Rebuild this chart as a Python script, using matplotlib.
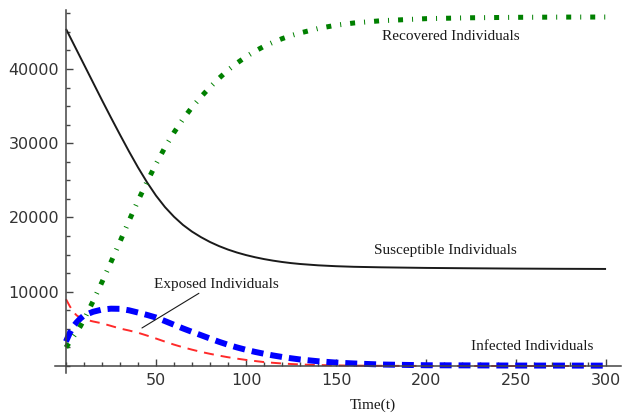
import matplotlib
matplotlib.use("Agg")
import matplotlib.pyplot as plt
from matplotlib.ticker import MultipleLocator, FixedLocator

plt.rcParams["lines.scale_dashes"] = False

# Time grid (days)
t = [0, 2, 4, 6, 8, 10, 15, 20, 25, 30, 35, 40, 45, 50, 55, 60, 65, 70, 75, 80,
     85, 90, 95, 100, 105, 110, 115, 120, 125, 130, 140, 150, 160, 175, 200,
     225, 250, 275, 300]

susceptible = [45400, 44440, 43480, 42520, 41560, 40600, 38200, 35800, 33450, 31150,
               28900, 26750, 24750, 22950, 21400, 20100, 19000, 18100, 17350, 16700,
               16150, 15680, 15280, 14940, 14650, 14400, 14190, 14010, 13860, 13740,
               13560, 13440, 13360, 13290, 13210, 13160, 13120, 13090, 13070]

exposed = [9000, 8100, 7300, 6800, 6500, 6300, 6000, 5750, 5400, 5050,
           4780, 4480, 4100, 3700, 3280, 2880, 2520, 2200, 1900, 1640,
           1400, 1180, 990, 820, 670, 530, 430, 340, 270, 210,
           130, 80, 50, 25, 10, 5, 0, 0, 0]

infected = [3300, 4400, 5300, 5900, 6400, 6800, 7300, 7600, 7720, 7700,
            7500, 7200, 6880, 6530, 6050, 5550, 5060, 4600, 4150, 3700,
            3260, 2860, 2500, 2180, 1900, 1650, 1420, 1220, 1040, 880,
            640, 460, 340, 200, 100, 80, 60, 55, 50]

recovered = [2500, 3200, 3900, 4600, 5350, 6250, 8700, 11300, 14000, 16750,
             19550, 22250, 24800, 27200, 29450, 31450, 33250, 34850, 36250, 37550,
             38750, 39850, 40800, 41650, 42400, 43050, 43600, 44080, 44500, 44850,
             45450, 45900, 46200, 46500, 46780, 46900, 46960, 46990, 47000]

x_major = [50, 100, 150, 200, 250, 300]
y_major = [10000, 20000, 30000, 40000]

fig = plt.figure(figsize=(6.22, 4.15), dpi=100)
ax = fig.add_axes([55 / 622, 1 - 373 / 415, 566 / 622, 363 / 415])

ax.plot(t, susceptible, color="#1a1a1a", lw=1.4, solid_capstyle="butt")
ax.plot(t, exposed, color="#ff2a2a", lw=1.4, linestyle=(0, (7.2, 5.0)))
ax.plot(t, infected, color="#0000ff", lw=4.3, linestyle=(0, (8.6, 5.0)))
ax.plot(t, recovered, color="#008000", lw=3.6,
        linestyle=(0, (3.6, 6.5, 0.7, 6.5)))

ax.set_xlim(-6.1, 308.3)
ax.set_ylim(-943, 47946)

for side in ("top", "right"):
    ax.spines[side].set_visible(False)
for side in ("left", "bottom"):
    ax.spines[side].set_position(("data", 0))
    ax.spines[side].set_color("#444444")
    ax.spines[side].set_linewidth(1.1)

ax.xaxis.set_major_locator(FixedLocator(x_major))
ax.xaxis.set_minor_locator(MultipleLocator(10))
ax.yaxis.set_major_locator(FixedLocator(y_major))
ax.yaxis.set_minor_locator(MultipleLocator(2500))
ax.tick_params(which="both", direction="in", color="#444444", width=1.0,
               labelsize=11.5, labelcolor="#333333")
ax.tick_params(which="major", length=5, pad=5)
ax.tick_params(which="minor", length=2.8)

serif = dict(family="Liberation Serif", fontsize=11, color="#1a1a1a",
             ha="center", va="center")
ax.text(213.9, 44310, "Recovered Individuals", **serif)
ax.text(210.8, 15490, "Susceptible Individuals", **serif)
ax.text(259.2, 2690, "Infected Individuals", **serif)
ax.annotate("Exposed Individuals", xy=(42.2, 5120), xytext=(83.3, 11040),
            ha="center", va="center", family="Liberation Serif", fontsize=11,
            color="#1a1a1a",
            arrowprops=dict(arrowstyle="-", color="#1a1a1a", lw=0.8,
                            shrinkA=0, shrinkB=0,
                            relpos=(0.4, 0.0)))
fig.text(373 / 622, 1 - 405 / 415, "Time(t)", family="Liberation Serif",
         fontsize=11, color="#1a1a1a", ha="center", va="center")

fig.savefig("out.png", dpi=100)
